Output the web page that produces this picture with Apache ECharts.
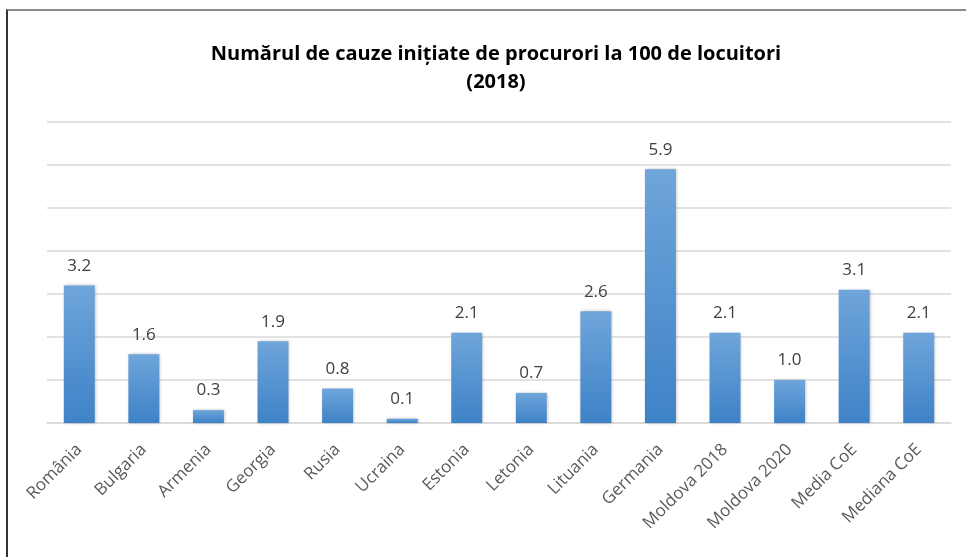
<!DOCTYPE html>
<html><head><meta charset="utf-8">
<script src="https://cdn.jsdelivr.net/npm/echarts@6/dist/echarts.min.js"></script>
<style>html,body{margin:0;padding:0;background:#fff}#c{width:966px;height:557px}
#frame{position:absolute;left:6px;top:9px;width:970px;height:560px;border-top:2px solid #8a8a8a;border-left:2px solid #333;pointer-events:none}</style>
</head><body>
<div id="c"></div><div id="frame"></div>
<script>
var categories = ['România','Bulgaria','Armenia','Georgia','Rusia','Ucraina','Estonia','Letonia','Lituania','Germania','Moldova 2018','Moldova 2020','Media CoE','Mediana CoE'];
var values = [3.2,1.6,0.3,1.9,0.8,0.1,2.1,0.7,2.6,5.9,2.1,1.0,3.1,2.1];
var titleText = 'Numărul de cauze inițiate de procurori la 100 de locuitori\n(2018)';
var chart = echarts.init(document.getElementById('c'));
chart.setOption({
  animation:false,
  title:{text:titleText,left:491,top:35,textAlign:'center',textStyle:{fontFamily:'Open Sans',fontWeight:'bold',fontSize:20,color:'#000',lineHeight:28}},
  grid:{left:47,right:15,top:122,bottom:134},
  xAxis:{type:'category',data:categories,axisTick:{show:false},
    axisLine:{lineStyle:{color:'#d9d9d9',width:1.5}},
    axisLabel:{rotate:45,interval:0,color:'#595959',fontFamily:'Open Sans',fontSize:17,margin:24}},
  yAxis:{type:'value',min:0,max:7,interval:1,axisLabel:{show:false},axisLine:{show:false},axisTick:{show:false},
    splitLine:{lineStyle:{color:'#d9d9d9',width:1.5}}},
  series:[{type:'bar',data:values,barWidth:'48%',
    itemStyle:{color:new echarts.graphic.LinearGradient(0,0,0,1,[{offset:0,color:'#6fa5da'},{offset:1,color:'#3e82c7'}]),
      shadowColor:'rgba(0,0,0,0.25)',shadowBlur:3,shadowOffsetX:1,shadowOffsetY:0},
    label:{show:true,position:'top',distance:11,color:'#404040',fontFamily:'Open Sans',fontSize:17,
      formatter:function(p){return p.value.toFixed(1);}}}]
});
</script></body></html>
